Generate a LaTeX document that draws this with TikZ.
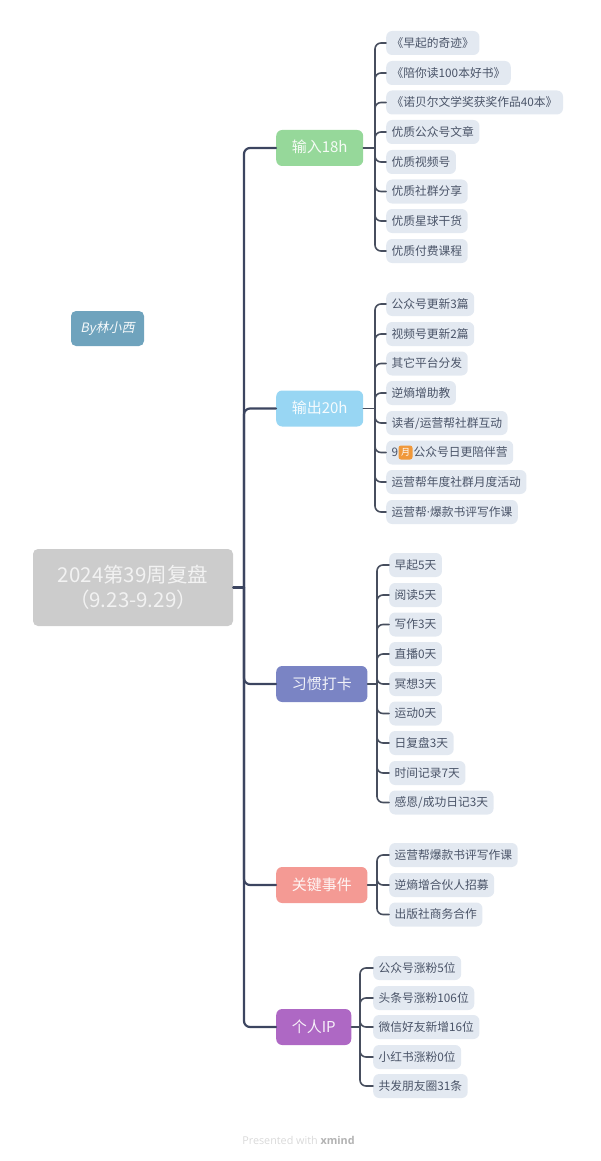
\documentclass[tikz,border=0pt]{standalone}
\usepackage{fontspec}
\setmainfont{Noto Sans CJK SC}
\newfontfamily\byfont[FakeSlant=0.2]{Noto Sans CJK SC}
\newfontfamily\footfont{Open Sans}
\definecolor{spinecol}{HTML}{3C4560}
\definecolor{twigcol}{HTML}{474E5E}
\definecolor{leafcol}{HTML}{E3E9F1}
\definecolor{leaftext}{HTML}{4A5468}
\definecolor{byblue}{HTML}{6FA3BD}
\definecolor{badgecol}{HTML}{F0983A}
\definecolor{toga}{HTML}{96D89A}
\definecolor{togb}{HTML}{98D6F3}
\definecolor{togc}{HTML}{7A84C4}
\definecolor{togd}{HTML}{F49A94}
\definecolor{toge}{HTML}{AE68C4}
\tikzset{
	leaf/.style={anchor=west, fill=leafcol, text=leaftext, rounded corners=6pt, font=\fontsize{11.75}{14}\selectfont, minimum height=24pt, inner xsep=5.5pt, inner ysep=0pt, text height=9.6pt, text depth=1pt},
	topic/.style={anchor=west, text=white!90!#1, fill=#1, rounded corners=6pt, font=\fontsize{15}{18}\selectfont, minimum height=36pt, inner xsep=15.6pt, inner ysep=0pt, text height=12pt, text depth=2pt},
	spine/.style={draw=spinecol, line width=2.2pt, rounded corners=6pt},
	twig/.style={draw=twigcol, line width=1.6pt, rounded corners=6pt}
}
\begin{document}
\begin{tikzpicture}[x=1pt, y=-1pt, line cap=round]
	\useasboundingbox (0,0) rectangle (600,1161);
	\node[fill=white!80!black, text=white!95!black, rounded corners=5pt, minimum width=200pt, minimum height=77pt, align=center, font=\fontsize{20.5}{25.5}\selectfont] (central) at (133,587.5) {2024第39周复盘\\（9.23-9.29）};
	\node[fill=byblue, rounded corners=5pt, minimum width=73pt, minimum height=35pt, text=white!92!byblue, font=\byfont\fontsize{13}{16}\selectfont] (by) at (107.5,328.5) {By林小西};
	\coordinate (hub) at (244,587.5);
	\node[topic=toga] (input) at (276,148) {输入18h};
	\node[topic=togb] (output) at (276,408.5) {输出20h};
	\node[topic=togc] (habit) at (276,684) {习惯打卡};
	\node[topic=togd] (event) at (276,885) {关键事件};
	\node[topic=toge] (ip) at (276,1027) {个人IP};
	\coordinate (jinput) at (375,148);
	\coordinate (joutput) at (375,408.5);
	\coordinate (jhabit) at (377,684);
	\coordinate (jevent) at (377,885);
	\coordinate (jip) at (360,1027);
	\foreach \i/\y/\t in {1/43/《早起的奇迹》, 2/73/《陪你读100本好书》, 3/102.5/《诺贝尔文学奖获奖作品40本》, 4/132/优质公众号文章, 5/162/优质视频号, 6/191.5/优质社群分享, 7/221/优质星球干货, 8/251/优质付费课程}
		\node[leaf] (a\i) at (386,\y) {\t};
	\foreach \i/\y/\t in {1/304/公众号更新3篇, 2/334/视频号更新2篇, 3/363.5/其它平台分发, 4/393/逆熵增助教, 5/423/{读者/运营帮社群互动}, 6/452.5/{9\hspace{15.5pt}公众号日更陪伴营}, 7/482/运营帮年度社群月度活动, 8/512/{运营帮{\footfont ·}爆款书评写作课}}
		\node[leaf] (b\i) at (386,\y) {\t};
	\foreach \i/\y/\t in {1/565/早起5天, 2/595/阅读5天, 3/624.5/写作3天, 4/654/直播0天, 5/684/冥想3天, 6/713.5/运动0天, 7/743/日复盘3天, 8/773/时间记录7天, 9/802.5/{感恩/成功日记3天}}
		\node[leaf] (c\i) at (389,\y) {\t};
	\foreach \i/\y/\t in {1/855/运营帮爆款书评写作课, 2/885/逆熵增合伙人招募, 3/914.5/出版社商务合作}
		\node[leaf] (d\i) at (389,\y) {\t};
	\foreach \i/\y/\t in {1/968/公众号涨粉5位, 2/998/头条号涨粉106位, 3/1027/微信好友新增16位, 4/1057/小红书涨粉0位, 5/1086/共发朋友圈31条}
		\node[leaf] (e\i) at (373,\y) {\t};
	\node[fill=badgecol, text=white, rounded corners=2.5pt, minimum width=14pt, minimum height=14pt, inner sep=0pt, font=\fontsize{9}{10}\selectfont] (moon) at (405.5,452.5) {月};
	\draw[spine] (central.east) -- (hub);
	\foreach \t in {input,output,habit,event,ip}
		\draw[spine] (hub) |- (\t.west);
	\foreach \t in {input,output,habit,event,ip}
		\draw[twig] (\t.east) -- (j\t);
	\foreach \i in {1,...,8} {
		\draw[twig] (jinput) |- (a\i.west);
		\draw[twig] (joutput) |- (b\i.west);
	}
	\foreach \i in {1,...,9}
		\draw[twig] (jhabit) |- (c\i.west);
	\foreach \i in {1,2,3}
		\draw[twig] (jevent) |- (d\i.west);
	\foreach \i in {1,...,5}
		\draw[twig] (jip) |- (e\i.west);
	\node[font=\footfont\fontsize{10.8}{12}\selectfont, text=black!15, inner sep=0pt] (foot) at (298.5,1140) {Presented with \textcolor{black!30}{\bfseries xmind}};
\end{tikzpicture}
\end{document}
